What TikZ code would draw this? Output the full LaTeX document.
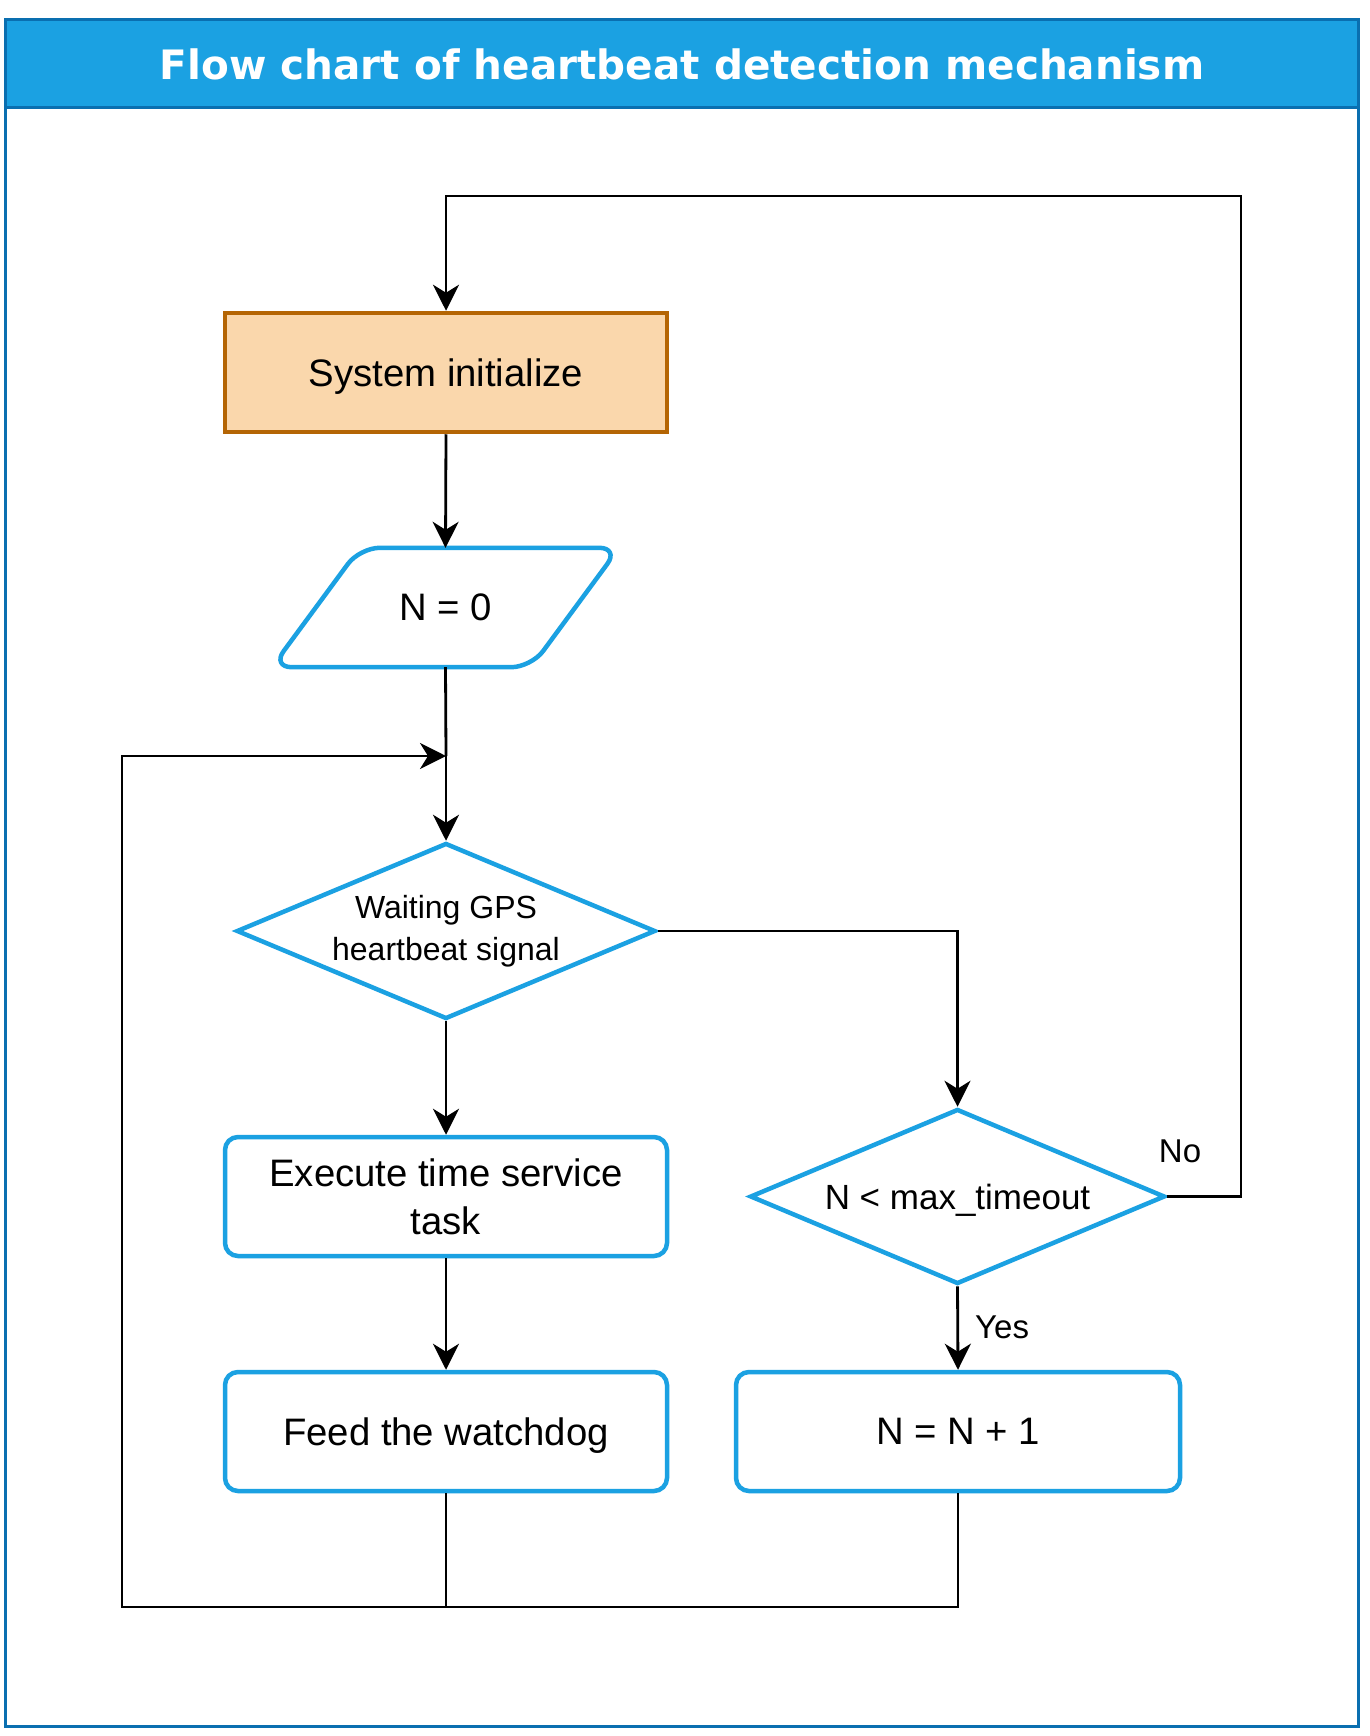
\documentclass[tikz,border=0pt]{standalone}
\usepackage{fontspec}
\setmainfont{Liberation Sans}
\newfontfamily\titlefont{DejaVu Sans}
\usetikzlibrary{arrows.meta,shapes.geometric,calc}
\definecolor{dblue}{HTML}{1BA1E2}
\definecolor{frameblue}{HTML}{0A6FB0}
\definecolor{ofill}{HTML}{FAD7AC}
\definecolor{ostroke}{HTML}{B46504}
\begin{document}
\begin{tikzpicture}[x=1pt,y=-1pt,
  conn/.style={line width=2.8pt, draw=black},
  arr/.style={conn, -{Stealth[length=26pt,width=26pt,inset=8pt]}},
  procbox/.style={draw=dblue, line width=4.5pt, rounded corners=13pt, minimum width=442pt, minimum height=119pt, align=center, font=\fontsize{38.3}{48}\selectfont, inner sep=0pt},
  oneline/.style={text depth=0pt},
  decision/.style={diamond, draw=dblue, line width=4.5pt, inner sep=0pt, align=center},
  pshape/.style={draw=dblue, line width=4.5pt, rounded corners=20pt},
  lbl/.style={font=\fontsize{33}{40}\selectfont, inner sep=0pt},
  titletext/.style={font=\titlefont\bfseries\fontsize{40.5}{48}\selectfont, text=white, inner sep=0pt}
]
\useasboundingbox (0,0) rectangle (1369,1736);
\fill[white] (0,0) rectangle (1369,1736);
% frame and title band
\draw[frameblue, line width=3pt] (5,20) rectangle (1358,1726);
\filldraw[fill=dblue, draw=frameblue, line width=3pt] (5,20) rectangle (1358,108);
\node[titletext] (title) at (682,64) {Flow chart of heartbeat detection mechanism};

% nodes
\node[procbox, oneline, fill=ofill, draw=ostroke, sharp corners] (init) at (446,372.5) {System initialize};
\node[oneline, minimum width=259pt, minimum height=119pt, inner sep=0pt, font=\fontsize{38.3}{48}\selectfont] (n0) at (445.5,607.5) {N = 0};
\draw[pshape] ([xshift=44pt]n0.north west) -- ([xshift=44pt]n0.north east) -- ([xshift=-44pt]n0.south east) -- ([xshift=-44pt]n0.south west) -- cycle;
\coordinate (jn) at (446,756);
\node[decision, aspect=2.38, minimum width=419pt, minimum height=176pt, font=\fontsize{32}{42}\selectfont] (wait) at (446,931) {Waiting GPS\\heartbeat signal};
\node[procbox] (exec) at (446,1196.5) {Execute time service\\task};
\node[procbox, oneline] (feed) at (446,1431.5) {Feed the watchdog};
\node[decision, oneline, aspect=2.37, minimum width=415pt, minimum height=175pt, font=\fontsize{35}{42}\selectfont] (cmp) at (957.5,1196.5) {N < max\_timeout};
\node[procbox, oneline, minimum width=444pt] (inc) at (958,1431.5) {N = N + 1};
\coordinate (bl) at (122,1607);
\coordinate (tr) at (1241,196);

% connectors
\draw[arr] (init.south) -- (n0.north);
\draw[conn] (n0.south) -- (jn);
\draw[arr] (jn) -- (wait.north);
\draw[arr] (wait.south) -- (exec.north);
\draw[arr] (exec.south) -- (feed.north);
\draw[arr] (wait.east) -| (cmp.north);
\draw[arr] (cmp.south) -- (inc.north);
\draw[arr] (cmp.east) -| (tr) -| (init.north);
\draw[conn] (feed.south) -- (feed.south |- bl);
\draw[arr] (inc.south) |- (bl) |- (jn);

% labels
\node[lbl] (no) at (1180,1151) {No};
\node[lbl, anchor=west] (yes) at (975,1327) {Yes};
\end{tikzpicture}
\end{document}
